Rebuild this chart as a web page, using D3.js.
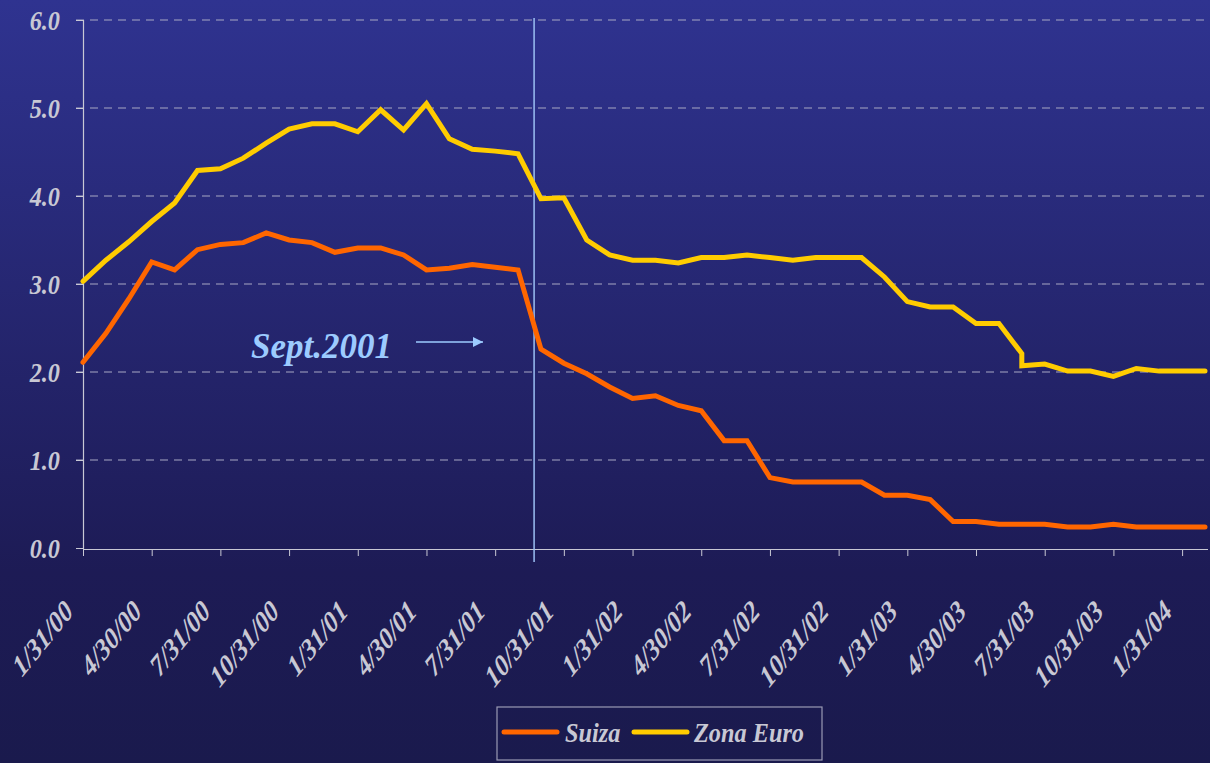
<!DOCTYPE html>
<html>
<head>
<meta charset="utf-8">
<script src="https://cdn.jsdelivr.net/npm/d3@7"></script>
<style>
  html, body { margin: 0; padding: 0; background: #1b1a4f; }
  svg { display: block; }
  text { font-family: "Liberation Serif", "Times New Roman", serif; font-weight: bold; font-style: italic; }
</style>
</head>
<body>
<svg id="chart" width="1210" height="763"></svg>
<script>
// ---------------- data ----------------
const months = [
  "1/31/00","2/29/00","3/31/00","4/30/00","5/31/00","6/30/00","7/31/00","8/31/00","9/30/00","10/31/00","11/30/00","12/31/00",
  "1/31/01","2/28/01","3/31/01","4/30/01","5/31/01","6/30/01","7/31/01","8/31/01","9/30/01","10/31/01","11/30/01","12/31/01",
  "1/31/02","2/28/02","3/31/02","4/30/02","5/31/02","6/30/02","7/31/02","8/31/02","9/30/02","10/31/02","11/30/02","12/31/02",
  "1/31/03","2/28/03","3/31/03","4/30/03","5/31/03","6/30/03","7/31/03","8/31/03","9/30/03","10/31/03","11/30/03","12/31/03",
  "1/31/04","2/29/04"
];
const suiza = [
  2.11, 2.44, 2.83, 3.25, 3.16, 3.39, 3.45, 3.47, 3.58, 3.50, 3.47, 3.36,
  3.41, 3.41, 3.33, 3.16, 3.18, 3.22, 3.19, 3.16, 2.26, 2.10, 1.98, 1.83,
  1.70, 1.73, 1.62, 1.56, 1.22, 1.22, 0.80, 0.75, 0.75, 0.75, 0.75, 0.60,
  0.60, 0.55, 0.30, 0.30, 0.27, 0.27, 0.27, 0.24, 0.24, 0.27, 0.24, 0.24,
  0.24, 0.24
];
// June 2003 holds two readings (step within the month)
const zonaEuro = [
  3.03, 3.27, 3.48, 3.71, 3.92, 4.29, 4.31, 4.43, 4.60, 4.76, 4.82, 4.82,
  4.73, 4.98, 4.75, 5.05, 4.65, 4.53, 4.51, 4.48, 3.97, 3.98, 3.50, 3.33,
  3.27, 3.27, 3.24, 3.30, 3.30, 3.33, 3.30, 3.27, 3.30, 3.30, 3.30, 3.08,
  2.80, 2.74, 2.74, 2.55, 2.55, [2.21, 2.07], 2.09, 2.01, 2.01, 1.95, 2.04, 2.01,
  2.01, 2.01
];
const tickLabels = ["1/31/00","4/30/00","7/31/00","10/31/00","1/31/01","4/30/01","7/31/01","10/31/01",
  "1/31/02","4/30/02","7/31/02","10/31/02","1/31/03","4/30/03","7/31/03","10/31/03","1/31/04"];
const yTicks = [0, 1, 2, 3, 4, 5, 6];
const seriesNames = ["Suiza", "Zona Euro"];
const seriesColors = ["#ff6600", "#ffcc00"];
const annotation = { label: "Sept.2001", after: "8/31/01", before: "9/30/01", frac: 0.7 };

// ---------------- drawing ----------------
const svg = d3.select("#chart");
const W = 1210, H = 763;

const defs = svg.append("defs");
const grad = defs.append("linearGradient").attr("id", "bg").attr("x1", 0).attr("y1", 0).attr("x2", 0).attr("y2", 1);
grad.append("stop").attr("offset", "0%").attr("stop-color", "#2f3390");
grad.append("stop").attr("offset", "75%").attr("stop-color", "#1d1b55");
grad.append("stop").attr("offset", "100%").attr("stop-color", "#1a1a4d");
svg.append("rect").attr("width", W).attr("height", H).attr("fill", "url(#bg)");

const x = d3.scalePoint().domain(months).range([83, 1205]);
const y = d3.scaleLinear().domain([0, 6]).range([548, 20]);

// gridlines
svg.append("g").selectAll("line").data(yTicks.filter(d => d > 0)).join("line")
  .attr("x1", 76).attr("x2", 1208)
  .attr("y1", d => y(d)).attr("y2", d => y(d))
  .attr("stroke", "#a8a8c4").attr("stroke-width", 1.2)
  .attr("stroke-dasharray", "8,6");

// y axis
const yAxis = svg.append("g").attr("transform", "translate(83,0)")
  .call(d3.axisLeft(y).tickValues(yTicks).tickSize(7).tickFormat(d3.format(".1f")).tickPadding(16));
yAxis.select(".domain").attr("stroke", "#c8c8d4").attr("stroke-width", 1.2);
yAxis.selectAll(".tick line").attr("stroke", "#c8c8d4");
yAxis.selectAll(".tick text").attr("fill", "#c8c8d4").attr("font-size", 27)
  .attr("x", 0).attr("dy", "0.35em")
  .attr("transform", "translate(-23,0) scale(0.9,1)");

// x axis
const xAxis = svg.append("g").attr("transform", "translate(0,549)")
  .call(d3.axisBottom(x).tickValues(tickLabels).tickSize(7).tickSizeOuter(0).tickFormat(d => d));
xAxis.select(".domain").attr("stroke", "#c8c8d4").attr("stroke-width", 1.2)
  .attr("d", "M83,0.5H1208");
xAxis.selectAll(".tick line").attr("stroke", "#c8c8d4");
xAxis.selectAll(".tick text")
  .attr("fill", "#c8c8d4").attr("font-size", 30)
  .attr("text-anchor", "end")
  .attr("y", 0).attr("dy", 0)
  .attr("transform", "translate(-9,64) scale(0.81,1) rotate(-45)");

// Sept 2001 marker
const sx = x(annotation.after) + (x(annotation.before) - x(annotation.after)) * annotation.frac;
svg.append("line").attr("x1", sx).attr("x2", sx).attr("y1", 18).attr("y2", 562)
  .attr("stroke", "#9cc0f4").attr("stroke-width", 1.5);

// series lines
const line = d3.line().x(d => x(d.m)).y(d => y(d.v));
const suizaPts = suiza.map((v, i) => ({ m: months[i], v }));
const euroPts = zonaEuro.flatMap((v, i) => (Array.isArray(v) ? v : [v]).map(val => ({ m: months[i], v: val })));
[suizaPts, euroPts].forEach((pts, k) => {
  svg.append("path").datum(pts)
    .attr("d", line)
    .attr("fill", "none")
    .attr("stroke", seriesColors[k])
    .attr("stroke-width", 5)
    .attr("stroke-linejoin", "miter")
    .attr("stroke-miterlimit", 3)
    .attr("stroke-linecap", "round");
});

// annotation text + arrow
svg.append("text").attr("x", 251).attr("y", 358)
  .attr("fill", "#9ccbff").attr("font-size", 35).text(annotation.label);
defs.append("marker").attr("id", "arr").attr("viewBox", "0 0 10 10").attr("refX", 10).attr("refY", 5)
  .attr("markerWidth", 10).attr("markerHeight", 10).attr("markerUnits", "userSpaceOnUse")
  .attr("orient", "auto")
  .append("path").attr("d", "M0,0L10,5L0,10Z").attr("fill", "#9ccbff");
svg.append("line").attr("x1", 416).attr("x2", 483).attr("y1", 342).attr("y2", 342)
  .attr("stroke", "#9ccbff").attr("stroke-width", 1.5).attr("marker-end", "url(#arr)");

// legend
const lg = svg.append("g");
lg.append("rect").attr("x", 497).attr("y", 707).attr("width", 325).attr("height", 53)
  .attr("fill", "none").attr("stroke", "#9a9ab4").attr("stroke-width", 1.2);
const legendX = [504, 634];
const legendTextX = [565, 694];
seriesNames.forEach((n, k) => {
  lg.append("line").attr("x1", legendX[k]).attr("x2", legendX[k] + 53).attr("y1", 732).attr("y2", 732)
    .attr("stroke", seriesColors[k]).attr("stroke-width", 5).attr("stroke-linecap", "round");
  lg.append("text").attr("transform", `translate(${legendTextX[k]},742) scale(0.9,1)`)
    .attr("fill", "#c8c8d4").attr("font-size", 27).text(n);
});
</script>
</body>
</html>
